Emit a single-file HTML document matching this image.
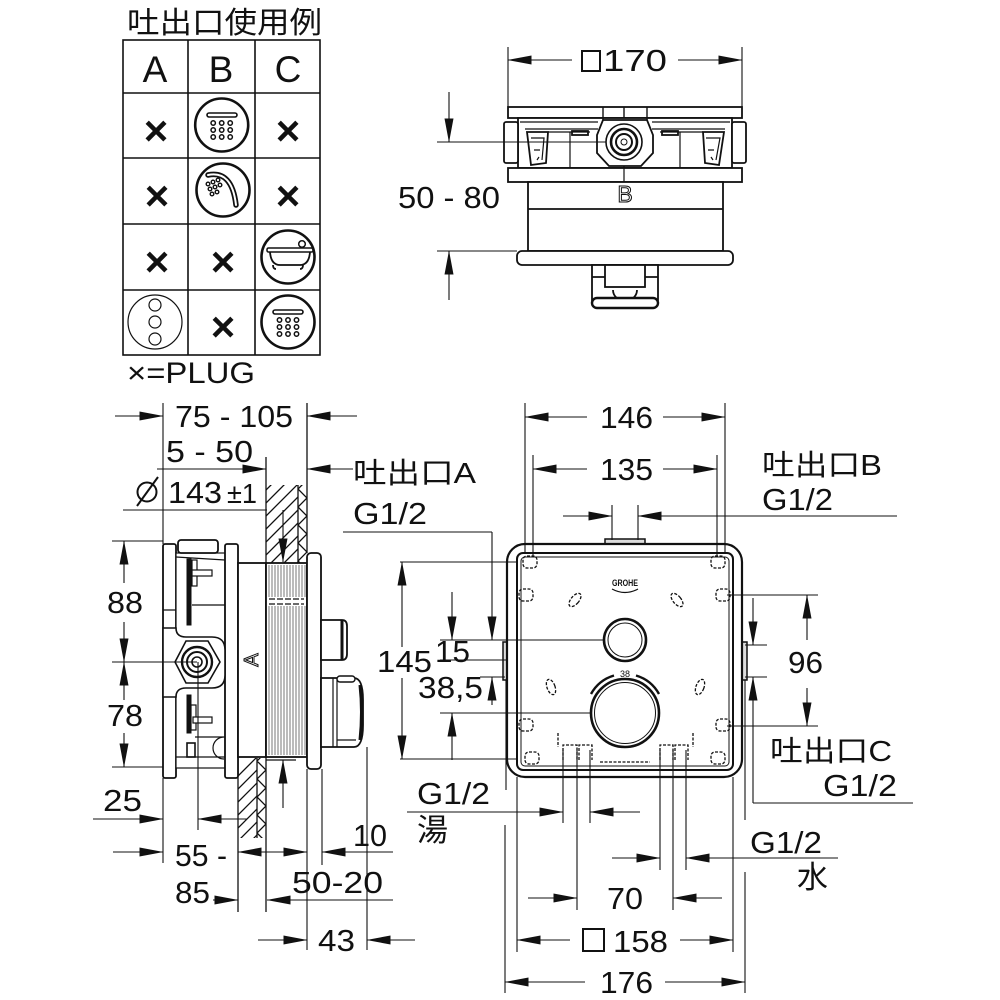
<!DOCTYPE html>
<html><head><meta charset="utf-8"><style>
html,body{margin:0;padding:0;background:#fff;}
svg{display:block;}
text{font-family:"Liberation Sans","Noto Sans CJK JP",sans-serif;fill:#111;}
</style></head><body>
<svg width="1000" height="1000" viewBox="0 0 1000 1000" xmlns="http://www.w3.org/2000/svg">
<defs>
<marker id="a" markerUnits="userSpaceOnUse" markerWidth="24" markerHeight="9" refX="23.5" refY="4.5" orient="auto"><path d="M0,0L24,4.5L0,9z" fill="#111"/></marker>
<clipPath id="h1"><rect x="266" y="485" width="32" height="78"/></clipPath>
<clipPath id="h2"><rect x="298" y="485" width="9" height="78"/></clipPath>
<clipPath id="h3"><rect x="238" y="758" width="19" height="80"/></clipPath>
<clipPath id="h4"><rect x="257" y="758" width="9" height="80"/></clipPath>
</defs>
<rect width="1000" height="1000" fill="#fff"/>

<!-- ================= TABLE ================= -->
<text x="127" y="33" font-size="30" textLength="195" lengthAdjust="spacingAndGlyphs">吐出口使用例</text>
<g stroke="#111" stroke-width="1.6" fill="none">
<rect x="123" y="40" width="197" height="315"/>
<line x1="188" y1="40" x2="188" y2="355"/>
<line x1="255" y1="40" x2="255" y2="355"/>
<line x1="123" y1="93" x2="320" y2="93"/>
<line x1="123" y1="158" x2="320" y2="158"/>
<line x1="123" y1="224" x2="320" y2="224"/>
<line x1="123" y1="290" x2="320" y2="290"/>
</g>
<text x="155" y="82" font-size="37" text-anchor="middle">A</text>
<text x="221" y="82" font-size="37" text-anchor="middle">B</text>
<text x="288" y="82" font-size="37" text-anchor="middle">C</text>
<g font-size="42" font-weight="bold" text-anchor="middle">
<text x="156" y="145">×</text>
<text x="288" y="145">×</text>
<text x="157" y="210">×</text>
<text x="288" y="210">×</text>
<text x="157" y="276">×</text>
<text x="223" y="276">×</text>
<text x="223" y="341">×</text>
</g>
<!-- shower icon row1 B -->
<g stroke="#111" fill="none">
<circle cx="221.7" cy="125" r="26.5" stroke-width="2.6"/>
<rect x="207" y="113" width="30" height="4" rx="2" stroke-width="1.6"/>
<g stroke-width="1.5">
<circle cx="213.2" cy="123" r="2.2"/><circle cx="221.7" cy="123" r="2.2"/><circle cx="230.2" cy="123" r="2.2"/>
<circle cx="213.2" cy="130" r="2.2"/><circle cx="221.7" cy="130" r="2.2"/><circle cx="230.2" cy="130" r="2.2"/>
<circle cx="213.2" cy="137" r="2.2"/><circle cx="221.7" cy="137" r="2.2"/><circle cx="230.2" cy="137" r="2.2"/>
</g>
<!-- hand shower row2 B -->
<circle cx="223" cy="190" r="26.5" stroke-width="2.6"/>
<path d="M208,175 Q232,170 236,205" stroke-width="5.5" stroke-linecap="round"/>
<path d="M208,175 Q232,170 236,205" stroke-width="2" stroke="#fff" stroke-linecap="round"/>
<g stroke-width="1.4">
<circle cx="208" cy="184" r="1.8"/><circle cx="213" cy="182" r="1.8"/><circle cx="218" cy="180" r="1.8"/>
<circle cx="210" cy="189" r="1.8"/><circle cx="215" cy="187" r="1.8"/><circle cx="220" cy="185" r="1.8"/>
<circle cx="212" cy="194" r="1.8"/><circle cx="217" cy="192" r="1.8"/>
</g>
<!-- bathtub row3 C -->
<circle cx="288" cy="257" r="26.5" stroke-width="2.6"/>
<rect x="267" y="248" width="46" height="4" rx="1.5" stroke-width="1.5"/>
<path d="M270,252 Q271,265 280,265 H300 Q309,265 310,252" stroke-width="1.8"/>
<path d="M273,265 q0,4 3,4 M303,265 q0,4 -3,4" stroke-width="1.8"/>
<circle cx="302" cy="244" r="3.3" stroke-width="1.5"/>
<!-- plug row4 A -->
<circle cx="155" cy="322" r="27" stroke-width="1.2"/>
<circle cx="155" cy="305" r="6" stroke-width="1.2"/>
<circle cx="155" cy="322" r="6" stroke-width="1.2"/>
<circle cx="155" cy="339" r="6" stroke-width="1.2"/>
<!-- shower row4 C -->
<circle cx="288" cy="322" r="26.5" stroke-width="2.6"/>
<rect x="273" y="310" width="30" height="4" rx="2" stroke-width="1.6"/>
<g stroke-width="1.5">
<circle cx="279.5" cy="320" r="2.2"/><circle cx="288" cy="320" r="2.2"/><circle cx="296.5" cy="320" r="2.2"/>
<circle cx="279.5" cy="327" r="2.2"/><circle cx="288" cy="327" r="2.2"/><circle cx="296.5" cy="327" r="2.2"/>
<circle cx="279.5" cy="334" r="2.2"/><circle cx="288" cy="334" r="2.2"/><circle cx="296.5" cy="334" r="2.2"/>
</g>
</g>
<text x="127" y="383" font-size="30" textLength="128" lengthAdjust="spacingAndGlyphs">×=PLUG</text>

<!-- ================= TOP RIGHT VIEW ================= -->
<g stroke="#111" stroke-width="1.8" fill="#fff">
<rect x="508" y="107" width="234" height="11"/>
<rect x="518" y="118" width="214" height="50"/>
<rect x="504" y="122" width="14" height="41" rx="2"/>
<rect x="732" y="122" width="14" height="41" rx="2"/>
<path d="M520,122 H598 M652,122 H730" fill="none" stroke-width="1.2"/>
<path d="M525,129 H598 M652,129 H725" fill="none" stroke-width="1.2"/>
<polygon points="527,132 548,132 546,163 531,165"/>
<path d="M531,138 L544,138 L542,160 M534,150 h6 M537,160 l2,-3" fill="none" stroke-width="1.2"/>
<polygon points="703,132 724,132 719,165 705,163"/>
<path d="M706,138 L720,138 L716,160 M708,150 h6 M713,160 l-2,-3" fill="none" stroke-width="1.2"/>
<rect x="572" y="131" width="16" height="4"/>
<rect x="662" y="131" width="16" height="4"/>
<path d="M570,132 V168 M680,132 V168 M548,132 H590 M660,132 H703" fill="none" stroke-width="1.2"/>
<path d="M603,107 V120 M647,107 V120 M624,107 V118" fill="none" stroke-width="1.4"/>
<polygon points="603,120 647,120 653,135 653,153 641,166 609,166 597,153 597,135"/>
<circle cx="624" cy="142" r="18" stroke-width="1.6"/>
<circle cx="624" cy="142" r="13" stroke-width="2.6"/>
<circle cx="624" cy="142" r="8" stroke-width="2"/>
<circle cx="624" cy="142" r="3" stroke-width="1"/>
<rect x="508" y="168" width="234" height="14"/>
<line x1="624" y1="166" x2="624" y2="182" stroke-width="1.2"/>
<rect x="528" y="182" width="195" height="69"/>
<line x1="528" y1="209" x2="723" y2="209"/>
<rect x="517" y="251" width="216" height="14" rx="5"/>
<rect x="592" y="265" width="66" height="35"/>
<line x1="592" y1="277" x2="658" y2="277"/>
<rect x="605" y="265" width="40" height="22"/>
<path d="M613,290 A12,11 0 0 0 637,290" fill="none"/>
<rect x="592" y="298" width="66" height="10" rx="5" stroke-width="2.4"/>
</g>
<text x="625" y="202" font-size="23" text-anchor="middle" stroke="#111" stroke-width="1" style="fill:#fff">B</text>
<rect x="582" y="51" width="18" height="20" fill="none" stroke="#111" stroke-width="2"/>
<text x="603" y="71" font-size="31" textLength="64" lengthAdjust="spacingAndGlyphs">170</text>
<text x="398" y="208" font-size="31" textLength="102" lengthAdjust="spacingAndGlyphs">50 - 80</text>

<!-- ================= LEFT SIDE VIEW ================= -->
<g stroke="#111" stroke-width="1.3" fill="none">
<g clip-path="url(#h1)">
<line x1="266" y1="490" x2="298" y2="458"/><line x1="266" y1="503" x2="298" y2="471"/>
<line x1="266" y1="516" x2="298" y2="484"/><line x1="266" y1="529" x2="298" y2="497"/>
<line x1="266" y1="542" x2="298" y2="510"/><line x1="266" y1="555" x2="298" y2="523"/>
<line x1="266" y1="568" x2="298" y2="536"/><line x1="266" y1="581" x2="298" y2="549"/>
<line x1="266" y1="594" x2="298" y2="562"/>
</g>
<g clip-path="url(#h2)">
<polyline points="307,480 298,489 307,498 298,507 307,516 298,525 307,534 298,543 307,552 298,561 307,570"/>
</g>
<line x1="266" y1="457" x2="266" y2="563"/>
<line x1="298" y1="485" x2="298" y2="563"/>
<line x1="307" y1="403" x2="307" y2="553"/>
<g clip-path="url(#h3)">
<line x1="238" y1="776" x2="257" y2="757"/><line x1="238" y1="789" x2="257" y2="770"/>
<line x1="238" y1="802" x2="257" y2="783"/><line x1="238" y1="815" x2="257" y2="796"/>
<line x1="238" y1="828" x2="257" y2="809"/><line x1="238" y1="841" x2="257" y2="822"/>
<line x1="238" y1="854" x2="257" y2="835"/>
</g>
<g clip-path="url(#h4)">
<polyline points="266,752 257,761 266,770 257,779 266,788 257,797 266,806 257,815 266,824 257,833 266,842"/>
</g>
<line x1="257" y1="758" x2="257" y2="838"/>
<line x1="238" y1="757" x2="238" y2="912"/>
<line x1="266" y1="757" x2="266" y2="912"/>
<line x1="266" y1="760" x2="296" y2="760"/>
</g>

<g stroke="#111" stroke-width="1.8" fill="#fff">
<rect x="163" y="544" width="13" height="234" rx="2"/>
<rect x="176" y="553" width="49" height="215" stroke-width="1.2"/>
<rect x="178" y="540" width="40" height="13" rx="3"/>
<rect x="225" y="544" width="13" height="234" rx="2"/>
<path d="M176,557 L225,560 M192,605 H225 M163,610 H176" fill="none" stroke-width="1.2"/>
<rect x="187" y="559" width="4" height="66" fill="#111" stroke-width="1"/>
<rect x="192" y="560" width="5" height="26" stroke-width="1.2"/>
<rect x="192" y="570" width="20" height="6" stroke-width="1.2"/>
<path d="M163,628 H176 Q176,637 186,637 H212 Q225,637 225,650 V675 Q225,688 212,688 H186 Q176,688 176,697 H163 Z" stroke-width="1.6"/>
<polygon points="186,641 208,641 220,662 208,683 186,683 175,662" stroke-width="1.6"/>
<circle cx="197" cy="662" r="15" stroke-width="2.4"/>
<circle cx="197" cy="662" r="10" stroke-width="2"/>
<circle cx="197" cy="662" r="5" stroke-width="1.6"/>
<rect x="187" y="695" width="4" height="38" fill="#111" stroke-width="1"/>
<rect x="191" y="705" width="5" height="25" stroke-width="1.2"/>
<rect x="193" y="717" width="19" height="6" stroke-width="1.2"/>
<rect x="187" y="743" width="8" height="14" stroke-width="1.6"/>
<path d="M195,737 H225 M224,737 A11,11 0 0 0 224,759 M176,757 H225" fill="none" stroke-width="1.2"/>
<rect x="238" y="563" width="28" height="194"/>
<rect x="266" y="563" width="41" height="194"/>
<rect x="307" y="553" width="14" height="216" rx="4"/>
<path d="M321,620 H342 Q347,620 347,626 V654 Q347,660 342,660 H321 Z"/>
<path d="M342,620 V660" fill="none" stroke-width="3"/>
<path d="M321,678 H354 Q363,678 363,700 V725 Q363,747 354,747 H321 Z"/>
<path d="M333,678 V747 M337,678 V747 M337,740 H356" fill="none" stroke-width="1.2"/>
<path d="M360,685 Q363,712 360,740" fill="none" stroke-width="3"/>
<rect x="337" y="676" width="18" height="6" rx="3" stroke-width="1.4"/>
</g>
<g stroke="#555" stroke-width="0.8">
<line x1="269" y1="565" x2="269" y2="755"/><line x1="272" y1="565" x2="272" y2="755"/>
<line x1="275" y1="565" x2="275" y2="755"/><line x1="278" y1="565" x2="278" y2="755"/>
<line x1="281" y1="565" x2="281" y2="755"/><line x1="284" y1="565" x2="284" y2="755"/>
<line x1="287" y1="565" x2="287" y2="755"/><line x1="290" y1="565" x2="290" y2="755"/>
<line x1="293" y1="565" x2="293" y2="755"/><line x1="296" y1="565" x2="296" y2="755"/>
<line x1="299" y1="565" x2="299" y2="755"/><line x1="302" y1="565" x2="302" y2="755"/>
<line x1="305" y1="565" x2="305" y2="755"/>
</g>
<rect x="267" y="597" width="39" height="9" fill="#fff"/>
<path d="M269,599 H304 M269,604 H304" stroke="#111" stroke-width="1.3" stroke-dasharray="6,2"/>
<text transform="translate(258,660) rotate(-90)" font-size="20" text-anchor="middle" stroke="#111" stroke-width="1" style="fill:#fff">A</text>

<!-- ================= FRONT VIEW ================= -->
<g stroke="#111" fill="#fff">
<rect x="605" y="539" width="40" height="6" stroke-width="1.5" fill="#ddd"/>
<rect x="503" y="642" width="5" height="38" stroke-width="1.5" fill="#ddd"/>
<rect x="742" y="642" width="5" height="38" stroke-width="1.5" fill="#ddd"/>
<rect x="507" y="544" width="235" height="233" rx="18" stroke-width="2.2"/>
<rect x="517" y="553" width="216" height="217" rx="6" stroke-width="2"/>
<rect x="521" y="557" width="208" height="209" rx="4" stroke-width="1" fill="none"/>
</g>
<g stroke="#111" stroke-width="1.3" fill="none" stroke-dasharray="3,1.5">
<rect x="523" y="556" width="14" height="12" rx="4"/>
<rect x="519" y="589" width="14" height="12" rx="4"/>
<rect x="519" y="719" width="14" height="12" rx="4"/>
<rect x="525" y="752" width="14" height="12" rx="4"/>
<rect x="711" y="556" width="14" height="12" rx="4"/>
<rect x="716" y="589" width="14" height="12" rx="4"/>
<rect x="716" y="719" width="14" height="12" rx="4"/>
<rect x="711" y="752" width="14" height="12" rx="4"/>
<ellipse cx="575" cy="600" rx="4" ry="8" transform="rotate(40 575 600)"/>
<ellipse cx="677" cy="600" rx="4" ry="8" transform="rotate(-40 677 600)"/>
<ellipse cx="551" cy="687" rx="4" ry="8" transform="rotate(-20 551 687)"/>
<ellipse cx="700" cy="687" rx="4" ry="8" transform="rotate(20 700 687)"/>
<path d="M563,760 V745 H577 V760 M579,760 V745 H592 V760 M660,760 V745 H673 V760 M675,760 V745 H688 V760"/>
<path d="M558,733 V747 M693,733 V747 M600,762 H650"/>
</g>
<text x="625" y="586" font-size="9" font-weight="bold" text-anchor="middle" textLength="26" lengthAdjust="spacingAndGlyphs">GROHE</text>
<path d="M612,589 Q625,596 638,589" stroke="#111" stroke-width="1.2" fill="none"/>
<g stroke="#111" fill="none">
<circle cx="625" cy="640" r="21" stroke-width="2.6"/>
<circle cx="625" cy="640" r="17" stroke-width="1"/>
<circle cx="625" cy="713" r="34" stroke-width="2.6"/>
<circle cx="625" cy="713" r="30.5" stroke-width="1"/>
<path d="M591,694 A39,39 0 0 1 614,675.5" stroke-width="2.4"/>
<path d="M636,675.5 A39,39 0 0 1 659,694" stroke-width="2.4"/>
</g>
<text x="625" y="677" font-size="9" text-anchor="middle">38</text>

<!-- ================= DIMENSION LINES ================= -->
<g stroke="#111" stroke-width="1.1" fill="none">
<line x1="508" y1="47" x2="508" y2="107"/><line x1="742" y1="47" x2="742" y2="107"/>
<line x1="437" y1="142" x2="606" y2="142"/><line x1="437" y1="251" x2="517" y2="251"/>
<line x1="163" y1="403" x2="163" y2="544"/>
<line x1="123" y1="510" x2="267" y2="510"/>
<line x1="112" y1="541" x2="163" y2="541"/>
<line x1="112" y1="662" x2="197" y2="662"/>
<line x1="112" y1="767" x2="163" y2="767"/>
<line x1="198" y1="662" x2="198" y2="830"/>
<line x1="163" y1="778" x2="163" y2="863"/>
<line x1="307" y1="769" x2="307" y2="950"/>
<line x1="322" y1="769" x2="322" y2="865"/>
<line x1="367" y1="747" x2="367" y2="950"/>
<line x1="343" y1="532" x2="492" y2="532"/>
<line x1="238" y1="563" x2="266" y2="563"/>
<line x1="525" y1="403" x2="525" y2="553"/><line x1="725" y1="403" x2="725" y2="553"/>
<line x1="533" y1="455" x2="533" y2="557"/><line x1="717" y1="455" x2="717" y2="557"/>
<line x1="612" y1="505" x2="612" y2="540"/><line x1="638" y1="505" x2="638" y2="540"/>
<line x1="400" y1="562" x2="517" y2="562"/><line x1="400" y1="759" x2="517" y2="759"/>
<line x1="440" y1="640" x2="604" y2="640"/>
<line x1="440" y1="660" x2="508" y2="660"/>
<line x1="480" y1="677" x2="505" y2="677"/>
<line x1="440" y1="713" x2="591" y2="713"/>
<line x1="727" y1="595" x2="818" y2="595"/><line x1="727" y1="726" x2="818" y2="726"/>
<line x1="745" y1="645" x2="767" y2="645"/><line x1="745" y1="677" x2="767" y2="677"/>
<line x1="753" y1="803" x2="913" y2="803"/>
<line x1="563" y1="750" x2="563" y2="823"/><line x1="590" y1="750" x2="590" y2="823"/>
<line x1="577" y1="750" x2="577" y2="910"/><line x1="673" y1="750" x2="673" y2="910"/>
<line x1="660" y1="750" x2="660" y2="870"/><line x1="686" y1="750" x2="686" y2="870"/>
<line x1="517" y1="777" x2="517" y2="952"/><line x1="733" y1="777" x2="733" y2="952"/>
<line x1="506" y1="680" x2="506" y2="790"/><line x1="505" y1="825" x2="505" y2="993"/>
<line x1="745" y1="680" x2="745" y2="820"/><line x1="745" y1="872" x2="745" y2="993"/>
</g>
<g stroke="#111" stroke-width="1.1" marker-end="url(#a)">
<line x1="572" y1="60" x2="508" y2="60"/><line x1="678" y1="60" x2="742" y2="60"/>
<line x1="449" y1="92" x2="449" y2="142"/><line x1="449" y1="300" x2="449" y2="251"/>
<line x1="115" y1="416" x2="163" y2="416"/><line x1="357" y1="416" x2="307" y2="416"/>
<line x1="157" y1="469" x2="266" y2="469"/><line x1="353" y1="469" x2="307" y2="469"/>
<line x1="124" y1="583" x2="124" y2="541"/><line x1="124" y1="622" x2="124" y2="662"/>
<line x1="124" y1="700" x2="124" y2="662"/><line x1="124" y1="733" x2="124" y2="767"/>
<line x1="93" y1="819" x2="163" y2="819"/><line x1="247" y1="819" x2="198" y2="819"/>
<line x1="113" y1="852" x2="163" y2="852"/><line x1="272" y1="852" x2="238" y2="852"/>
<line x1="272" y1="852" x2="307" y2="852"/><line x1="393" y1="852" x2="322" y2="852"/>
<line x1="213" y1="900" x2="238" y2="900"/><line x1="393" y1="900" x2="267" y2="900"/>
<line x1="258" y1="940" x2="307" y2="940"/><line x1="415" y1="940" x2="367" y2="940"/>
<line x1="283" y1="510" x2="283" y2="562"/><line x1="283" y1="808" x2="283" y2="760"/>
<line x1="587" y1="417" x2="525" y2="417"/><line x1="663" y1="417" x2="725" y2="417"/>
<line x1="587" y1="469" x2="533" y2="469"/><line x1="663" y1="469" x2="717" y2="469"/>
<line x1="563" y1="516" x2="612" y2="516"/><line x1="897" y1="516" x2="638" y2="516"/>
<line x1="402" y1="647" x2="402" y2="562"/><line x1="402" y1="678" x2="402" y2="759"/>
<line x1="452" y1="592" x2="452" y2="640"/><line x1="452" y1="760" x2="452" y2="713"/>
<line x1="492" y1="532" x2="492" y2="640"/><line x1="492" y1="705" x2="492" y2="677"/>
<line x1="807" y1="640" x2="807" y2="595"/><line x1="807" y1="688" x2="807" y2="726"/>
<line x1="753" y1="598" x2="753" y2="645"/><line x1="753" y1="803" x2="753" y2="677"/>
<line x1="407" y1="812" x2="563" y2="812"/><line x1="640" y1="812" x2="590" y2="812"/>
<line x1="612" y1="858" x2="660" y2="858"/><line x1="838" y1="858" x2="686" y2="858"/>
<line x1="528" y1="898" x2="577" y2="898"/><line x1="722" y1="898" x2="673" y2="898"/>
<line x1="570" y1="940" x2="517" y2="940"/><line x1="680" y1="940" x2="733" y2="940"/>
<line x1="585" y1="982" x2="505" y2="982"/><line x1="665" y1="982" x2="745" y2="982"/>
</g>

<!-- diameter symbol -->
<circle cx="147" cy="492" r="9.5" stroke="#111" stroke-width="2" fill="none"/>
<line x1="137" y1="506" x2="158" y2="477" stroke="#111" stroke-width="2"/>

<!-- ================= TEXT ================= -->
<g font-size="31">
<text x="175" y="427" textLength="118" lengthAdjust="spacingAndGlyphs">75 - 105</text>
<text x="166" y="462" textLength="87" lengthAdjust="spacingAndGlyphs">5 - 50</text>
<text x="168" y="503" textLength="54" lengthAdjust="spacingAndGlyphs">143</text>
<text x="227" y="503" font-size="28" textLength="30" lengthAdjust="spacingAndGlyphs">±1</text>
<text x="107" y="613" textLength="36" lengthAdjust="spacingAndGlyphs">88</text>
<text x="107" y="726" textLength="36" lengthAdjust="spacingAndGlyphs">78</text>
<text x="103" y="811" textLength="39" lengthAdjust="spacingAndGlyphs">25</text>
<text x="175" y="866" textLength="52" lengthAdjust="spacingAndGlyphs">55 -</text>
<text x="175" y="903" textLength="35" lengthAdjust="spacingAndGlyphs">85</text>
<text x="353" y="846" textLength="34" lengthAdjust="spacingAndGlyphs">10</text>
<text x="292" y="893" textLength="91" lengthAdjust="spacingAndGlyphs">50-20</text>
<text x="318" y="951" textLength="37" lengthAdjust="spacingAndGlyphs">43</text>
<text x="600" y="428" textLength="53" lengthAdjust="spacingAndGlyphs">146</text>
<text x="600" y="480" textLength="53" lengthAdjust="spacingAndGlyphs">135</text>
<text x="377" y="672" textLength="55" lengthAdjust="spacingAndGlyphs">145</text>
<text x="435" y="662" textLength="35" lengthAdjust="spacingAndGlyphs">15</text>
<text x="418" y="698" textLength="65" lengthAdjust="spacingAndGlyphs">38,5</text>
<text x="788" y="673" textLength="35" lengthAdjust="spacingAndGlyphs">96</text>
<text x="353" y="483" font-size="29" textLength="123" lengthAdjust="spacingAndGlyphs">吐出口A</text>
<text x="353" y="524" textLength="74" lengthAdjust="spacingAndGlyphs">G1/2</text>
<text x="762" y="475" font-size="29" textLength="120" lengthAdjust="spacingAndGlyphs">吐出口B</text>
<text x="762" y="510" textLength="71" lengthAdjust="spacingAndGlyphs">G1/2</text>
<text x="770" y="761" font-size="29" textLength="122" lengthAdjust="spacingAndGlyphs">吐出口C</text>
<text x="823" y="796" textLength="74" lengthAdjust="spacingAndGlyphs">G1/2</text>
<text x="417" y="804" textLength="73" lengthAdjust="spacingAndGlyphs">G1/2</text>
<text x="417" y="841" font-size="31" textLength="31" lengthAdjust="spacingAndGlyphs">湯</text>
<text x="750" y="853" textLength="72" lengthAdjust="spacingAndGlyphs">G1/2</text>
<text x="797" y="888" font-size="31" textLength="31" lengthAdjust="spacingAndGlyphs">水</text>
<text x="607" y="909" textLength="36" lengthAdjust="spacingAndGlyphs">70</text>
<text x="613" y="952" textLength="55" lengthAdjust="spacingAndGlyphs">158</text>
<text x="600" y="993" textLength="53" lengthAdjust="spacingAndGlyphs">176</text>
</g>
<rect x="583" y="929" width="21" height="22" fill="none" stroke="#111" stroke-width="2"/>
</svg>
</body></html>
